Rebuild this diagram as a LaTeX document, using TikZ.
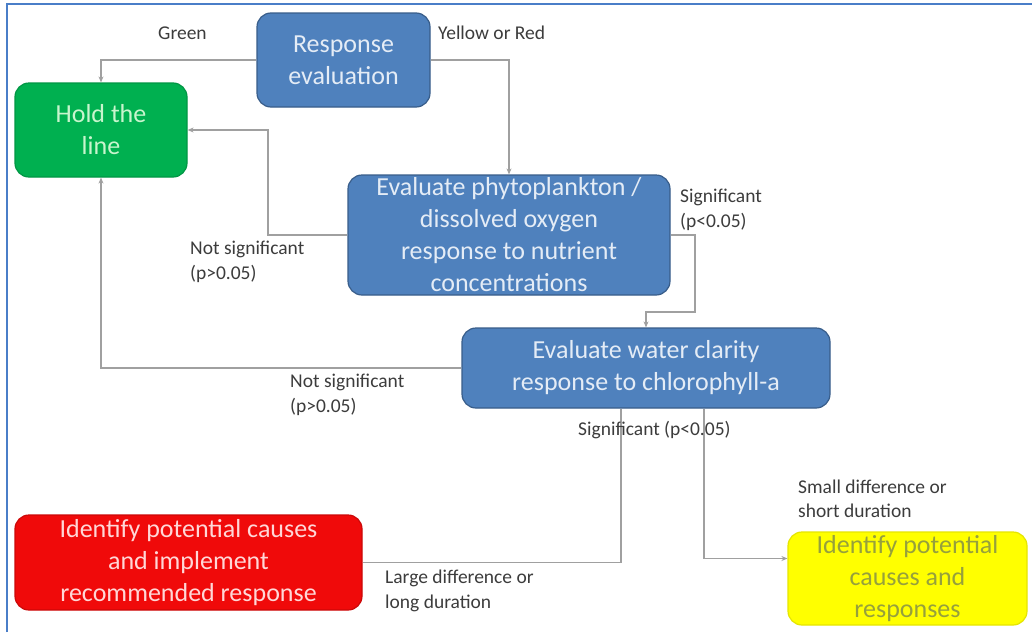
\documentclass[tikz,border=0pt]{standalone}
\usepackage{fontspec}
\setmainfont{Carlito}
\usetikzlibrary{arrows.meta}
\definecolor{boxblue}{RGB}{79,129,189}
\definecolor{boxblueedge}{RGB}{56,93,138}
\definecolor{boxgreen}{RGB}{0,176,80}
\definecolor{boxred}{RGB}{240,10,10}
\definecolor{boxyellow}{RGB}{255,255,0}
\definecolor{conngray}{RGB}{160,160,160}
\definecolor{labelgray}{RGB}{60,60,60}
\definecolor{framecol}{RGB}{74,126,200}
\tikzset{
  basebox/.style={rectangle, rounded corners=14pt, inner sep=0pt, align=center,
    font=\fontsize{26}{32}\selectfont, line width=1.2pt},
  bluebox/.style={basebox, fill=boxblue, draw=boxblueedge, text={rgb,255:red,228;green,236;blue,246}},
  greenbox/.style={basebox, fill=boxgreen, draw=boxgreen!85!black, text={rgb,255:red,200;green,245;blue,205}},
  redbox/.style={basebox, fill=boxred, draw=boxred!85!black, text={rgb,255:red,255;green,215;blue,215}},
  yellowbox/.style={basebox, fill=boxyellow, draw=boxyellow!90!black, text={rgb,255:red,150;green,160;blue,60}},
  conn/.style={draw=conngray, line width=1.1pt},
  arr/.style={conn, -{Stealth[length=6pt,width=5pt]}},
  lab/.style={anchor=west, align=left, inner sep=0pt, text=labelgray,
    font=\fontsize{19.5}{24.5}\selectfont}
}
\begin{document}
\begin{tikzpicture}[x=1pt,y=-1pt]
\useasboundingbox (0,0) rectangle (1032,632);
\fill[white] (0,0) rectangle (1032,632);
% frame
\draw[framecol, line width=2.5pt] (7,632) -- (7,4) -- (1032,4);

% boxes
\node[bluebox, minimum width=173pt, minimum height=94pt] (resp) at (343.5,60) {Response\\evaluation};
\node[greenbox, minimum width=172pt, minimum height=94pt] (hold) at (101,130) {Hold the\\line};
\node[bluebox, minimum width=322pt, minimum height=120pt] (phyto) at (509,235)
  {Evaluate phytoplankton /\\dissolved oxygen\\response to nutrient\\concentrations};
\node[bluebox, minimum width=368pt, minimum height=80pt] (clar) at (646,368)
  {Evaluate water clarity\\response to chlorophyll-a};
\node[redbox, minimum width=347pt, minimum height=95pt] (red) at (188.5,562.5)
  {Identify potential causes\\and implement\\recommended response};
\node[yellowbox, minimum width=239pt, minimum height=93pt] (yel) at (907.5,578.5)
  {Identify potential\\causes and\\responses};

% connectors
\draw[arr] (resp.west) -| (hold.north);
\draw[arr] (resp.east) -| (phyto.north);
\coordinate (c0) at (268,235);
\draw[arr] (phyto.west) -- (c0) |- (hold.east);
\coordinate (c1) at (695,312);
\draw[arr] (phyto.east) -| (c1) -| (clar.north);
\draw[arr] (clar.west) -| (hold.south);
\draw[conn] ([xshift=-25pt]clar.south) |- (red.east);
\draw[arr] ([xshift=58pt]clar.south) |- ([yshift=20pt]yel.west);

% labels
\node[lab] (lgreen) at (158,33) {Green};
\node[lab] (lyr) at (438,33) {Yellow or Red};
\node[lab] (lsig1) at (680,210) {Significant\\(p<0.05)};
\node[lab] (lns1) at (190,262) {Not significant\\(p>0.05)};
\node[lab] (lns2) at (290,395) {Not significant\\(p>0.05)};
\node[lab] (lsig2) at (578,430) {Significant (p<0.05)};
\node[lab] (lsmall) at (798,499) {Small difference or\\short duration};
\node[lab] (llarge) at (385,591) {Large difference or\\long duration};
\end{tikzpicture}
\end{document}
